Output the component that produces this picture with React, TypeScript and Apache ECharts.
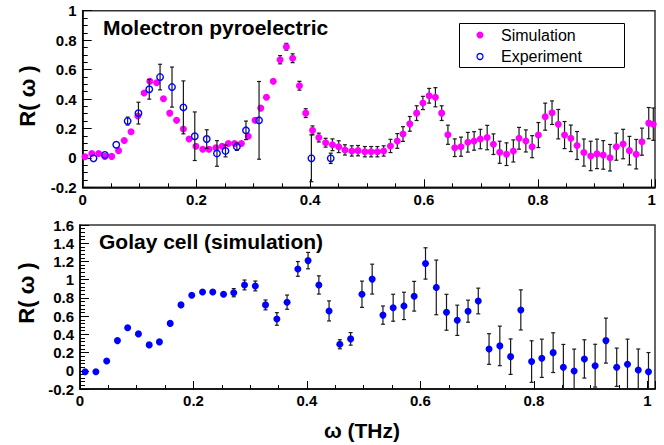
import React, { useEffect, useRef } from "react";
import * as echarts from "echarts";

// ---------- Data ----------
const simX = [
  0.004, 0.016, 0.028, 0.039, 0.051, 0.063, 0.073, 0.085, 0.097, 0.108,
  0.118, 0.130, 0.142, 0.153, 0.165, 0.177, 0.187, 0.199, 0.211, 0.222,
  0.234, 0.245, 0.256, 0.267, 0.279, 0.291, 0.303, 0.313, 0.323, 0.335,
  0.347, 0.358, 0.369, 0.381, 0.392, 0.404, 0.415, 0.427, 0.439, 0.450,
  0.461, 0.473, 0.484, 0.496, 0.507, 0.518, 0.529, 0.541, 0.553, 0.563,
  0.575, 0.587, 0.598, 0.609, 0.620, 0.631, 0.642, 0.654, 0.665, 0.677,
  0.688, 0.699, 0.711, 0.722, 0.733, 0.745, 0.757, 0.767, 0.779, 0.790,
  0.801, 0.813, 0.825, 0.836, 0.847, 0.858, 0.869, 0.881, 0.893, 0.904,
  0.915, 0.927, 0.938, 0.950, 0.961, 0.973, 0.983, 0.995, 1.003,
];
const simY = [
  0.008, 0.030, 0.030, 0.010, 0.010, 0.049, 0.118, 0.177, 0.285, 0.441,
  0.520, 0.510, 0.402, 0.304, 0.255, 0.196, 0.128, 0.079, 0.059, 0.059,
  0.069, 0.079, 0.098, 0.098, 0.098, 0.147, 0.255, 0.338, 0.412, 0.520,
  0.667, 0.755, 0.677, 0.490, 0.304, 0.187, 0.138, 0.103, 0.089, 0.076,
  0.054, 0.047, 0.049, 0.042, 0.042, 0.042, 0.047, 0.081, 0.115, 0.162,
  0.231, 0.304, 0.373, 0.422, 0.412, 0.304, 0.157, 0.069, 0.076, 0.106,
  0.115, 0.128, 0.138, 0.093, 0.038, 0.025, 0.047, 0.133, 0.115, 0.076,
  0.155, 0.280, 0.307, 0.229, 0.155, 0.133, 0.084, 0.036, 0.013, 0.027,
  0.020, 0.001, 0.076, 0.094, 0.049, 0.025, 0.110, 0.236, 0.229,
];
const simErr = [
  0, 0, 0, 0, 0, 0, 0, 0, 0, 0,
  0, 0, 0, 0, 0, 0, 0, 0, 0, 0,
  0, 0, 0, 0, 0, 0, 0, 0, 0, 0,
  0.028, 0.023, 0.03, 0.03, 0.03, 0.03, 0.03, 0.03, 0.04, 0.04,
  0.035, 0.035, 0.035, 0.035, 0.035, 0.035, 0.035, 0.045, 0.05, 0.05,
  0.05, 0.05, 0.045, 0.05, 0.065, 0.05, 0.065, 0.06, 0.065, 0.067,
  0.063, 0.066, 0.083, 0.07, 0.075, 0.077, 0.075, 0.074, 0.075, 0.075,
  0.085, 0.092, 0.08, 0.1, 0.092, 0.09, 0.095, 0.092, 0.1, 0.1,
  0.097, 0.09, 0.092, 0.1, 0.097, 0.1, 0.092, 0.106, 0.11,
];

const expX = [
  0.019, 0.039, 0.059, 0.079, 0.098, 0.117, 0.136, 0.157, 0.177,
  0.197, 0.218, 0.236, 0.251, 0.271, 0.287, 0.310, 0.402, 0.436,
];
const expY = [
  -0.003, 0.020, 0.089, 0.250, 0.304, 0.466, 0.549, 0.481, 0.343,
  0.147, 0.128, 0.030, 0.047, 0.076, 0.187, 0.255, -0.003, -0.003,
];
const expErr = [
  0, 0, 0, 0.027, 0.074, 0.067, 0.087, 0.136, 0.18,
  0.165, 0.063, 0.087, 0.04, 0.025, 0.063, 0.264, 0.159, 0.035,
];

const golayX = [
  0.009, 0.028, 0.047, 0.066, 0.084, 0.103, 0.122, 0.140, 0.159, 0.178,
  0.197, 0.216, 0.234, 0.253, 0.271, 0.290, 0.309, 0.327, 0.347, 0.365,
  0.384, 0.402, 0.421, 0.439, 0.458, 0.477, 0.497, 0.515, 0.534, 0.552,
  0.571, 0.589, 0.609, 0.628, 0.646, 0.665, 0.684, 0.702, 0.721, 0.740,
  0.759, 0.777, 0.796, 0.814, 0.834, 0.852, 0.871, 0.889, 0.908, 0.927,
  0.946, 0.965, 0.984, 1.002,
];
const golayY = [
  -0.010, -0.010, 0.108, 0.331, 0.473, 0.405, 0.284, 0.317, 0.520, 0.723,
  0.829, 0.864, 0.864, 0.840, 0.857, 0.942, 0.931, 0.723, 0.569, 0.753,
  1.118, 1.209, 0.942, 0.657, 0.291, 0.350, 0.840, 1.006, 0.611, 0.692,
  0.712, 0.818, 1.178, 0.915, 0.642, 0.554, 0.654, 0.766, 0.239, 0.273,
  0.155, 0.668, 0.101, 0.137, 0.199, 0.039, -0.002, 0.130, 0.056, 0.331,
  0.039, 0.071, 0.009, -0.010,
];
const golayErr = [
  0, 0, 0, 0, 0, 0, 0, 0, 0, 0,
  0, 0, 0, 0, 0.045, 0.054, 0.054, 0.054, 0.069, 0.078,
  0.081, 0.09, 0.1, 0.11, 0.05, 0.069, 0.144, 0.164, 0.1, 0.148,
  0.15, 0.163, 0.172, 0.3, 0.197, 0.166, 0.121, 0.141, 0.168, 0.217,
  0.195, 0.22, 0.228, 0.21, 0.218, 0.25, 0.24, 0.21, 0.235, 0.247,
  0.21, 0.276, 0.23, 0.21,
];

const xTickStep = 0.2;
const yTickStep = 0.2;
const topYRange = [-0.2, 1.0];
const botYRange = [-0.2, 1.6];
const topXMax = 1.006;
const botXMax = 1.0135;

const FONT = '"Liberation Sans", Arial, Helvetica, sans-serif';

function fmt(v: number): string {
  const r = Math.round(v / xTickStep) * xTickStep;
  if (Math.abs(v - r) > 1e-6) return "";
  const s = Math.round(r * 10) / 10;
  return String(s);
}

function errRender(cap: number) {
  return (params: any, api: any) => {
    const x = api.value(0);
    const y = api.value(1);
    const e = api.value(2);
    if (!e) return { type: "group", children: [] };
    const cs = params.coordSys;
    const top = api.coord([x, y + e]);
    const bot = api.coord([x, y - e]);
    const y0 = cs.y;
    const y1 = cs.y + cs.height;
    const ty = Math.max(top[1], y0);
    const by = Math.min(bot[1], y1);
    const st = { stroke: "#1a1a1a", lineWidth: 1.2 };
    const children: any[] = [
      { type: "line", shape: { x1: top[0], y1: ty, x2: top[0], y2: by }, style: st },
    ];
    if (top[1] >= y0)
      children.push({ type: "line", shape: { x1: top[0] - cap, y1: top[1], x2: top[0] + cap, y2: top[1] }, style: st });
    if (bot[1] <= y1)
      children.push({ type: "line", shape: { x1: bot[0] - cap, y1: bot[1], x2: bot[0] + cap, y2: bot[1] }, style: st });
    return { type: "group", children };
  };
}

function xAxisCfg(gridIndex: number, max: number, margin: number) {
  return {
    type: "value",
    gridIndex,
    min: 0,
    max,
    interval: xTickStep,
    axisLine: { show: true, onZero: false, lineStyle: { color: "#000", width: 1.5 } },
    axisTick: { show: true, inside: true, length: 8, lineStyle: { color: "#000", width: 1 } },
    minorTick: { show: true, splitNumber: 4, length: 4, lineStyle: { color: "#000", width: 1 } },
    splitLine: { show: false },
    axisLabel: {
      show: true,
      margin,
      fontFamily: FONT,
      fontWeight: "bold",
      fontSize: 15,
      color: "#000",
      formatter: (v: number) => fmt(v),
      showMaxLabel: true,
    },
  };
}

function yAxisCfg(gridIndex: number, range: number[], minorSplit: number) {
  return {
    type: "value",
    gridIndex,
    min: range[0],
    max: range[1],
    interval: yTickStep,
    axisLine: { show: true, onZero: false, lineStyle: { color: "#000", width: 1.5 } },
    axisTick: { show: true, inside: true, length: 9, lineStyle: { color: "#000", width: 1 } },
    minorTick: { show: true, splitNumber: minorSplit, length: 5, lineStyle: { color: "#000", width: 1 } },
    splitLine: { show: false },
    axisLabel: {
      show: true,
      margin: 6,
      padding: [5, 0, 0, 0],
      fontFamily: FONT,
      fontWeight: "bold",
      fontSize: 15,
      color: "#000",
      formatter: (v: number) => {
        const r = Math.round(v / yTickStep) * yTickStep;
        if (Math.abs(v - r) > 1e-6) return "";
        return String(Math.round(r * 10) / 10);
      },
    },
  };
}

export default function App() {
  const ref = useRef<HTMLDivElement>(null);

  useEffect(() => {
    if (!ref.current) return;
    const chart = echarts.init(ref.current, undefined, { renderer: "svg" });

    const simPts = simX.map((x, i) => [x, simY[i], simErr[i]]);
    const expPts = expX.map((x, i) => [x, expY[i], expErr[i]]);
    const golPts = golayX.map((x, i) => [x, golayY[i], golayErr[i]]);

    chart.setOption({
      animation: false,
      backgroundColor: "#fff",
      grid: [
        { left: 82.7, top: 10.7, right: 9, bottom: 257.7, show: true, borderColor: "#333", borderWidth: 1.5, backgroundColor: "transparent" },
        { left: 80, top: 225, right: 9, bottom: 56, show: true, borderColor: "#333", borderWidth: 1.5, backgroundColor: "transparent" },
      ],
      xAxis: [xAxisCfg(0, topXMax, 5), xAxisCfg(1, botXMax, 4)],
      yAxis: [yAxisCfg(0, topYRange, 4), yAxisCfg(1, botYRange, 5)],
      series: [
        {
          type: "custom",
          xAxisIndex: 0,
          yAxisIndex: 0,
          renderItem: errRender(2),
          data: simPts,
          encode: { x: 0, y: 1 },
          clip: false,
          z: 1,
        },
        {
          type: "scatter",
          name: "Simulation",
          xAxisIndex: 0,
          yAxisIndex: 0,
          data: simPts.map((p) => [p[0], p[1]]),
          symbol: "circle",
          symbolSize: 7,
          itemStyle: { color: "#ff00ff", opacity: 1 },
          z: 2,
        },
        {
          type: "custom",
          xAxisIndex: 0,
          yAxisIndex: 0,
          renderItem: errRender(2),
          data: expPts,
          encode: { x: 0, y: 1 },
          clip: false,
          z: 3,
        },
        {
          type: "scatter",
          name: "Experiment",
          xAxisIndex: 0,
          yAxisIndex: 0,
          data: expPts.map((p) => [p[0], p[1]]),
          symbol: "circle",
          symbolSize: 6.5,
          itemStyle: { color: "rgba(255,255,255,0)", borderColor: "#0000ff", borderWidth: 1.4, opacity: 1 },
          z: 4,
        },
        {
          type: "custom",
          xAxisIndex: 1,
          yAxisIndex: 1,
          renderItem: errRender(2),
          data: golPts,
          encode: { x: 0, y: 1 },
          clip: false,
          z: 1,
        },
        {
          type: "scatter",
          name: "Golay",
          xAxisIndex: 1,
          yAxisIndex: 1,
          data: golPts.map((p) => [p[0], p[1]]),
          symbol: "circle",
          symbolSize: 7,
          itemStyle: { color: "#0000ff", opacity: 1 },
          z: 2,
        },
      ],
      graphic: [
        {
          type: "text",
          left: 103,
          top: 17,
          style: { text: "Molectron pyroelectric", font: `bold 21px ${FONT}`, fill: "#000" },
        },
        {
          type: "text",
          left: 99,
          top: 231,
          style: { text: "Golay cell (simulation)", font: `bold 21px ${FONT}`, fill: "#000" },
        },
        {
          type: "text",
          x: 27,
          y: 96,
          rotation: Math.PI / 2,
          style: { text: "R( ω )", font: `bold 22px ${FONT}`, fill: "#000", align: "center", verticalAlign: "middle" },
        },
        {
          type: "text",
          x: 26,
          y: 293,
          rotation: Math.PI / 2,
          style: { text: "R( ω )", font: `bold 22px ${FONT}`, fill: "#000", align: "center", verticalAlign: "middle" },
        },
        {
          type: "text",
          x: 362,
          y: 430,
          style: { text: "ω (THz)", font: `bold 21px ${FONT}`, fill: "#000", align: "center", verticalAlign: "middle" },
        },
        {
          type: "rect",
          shape: { x: 459.5, y: 23.5, width: 165, height: 44 },
          style: { fill: "#fff", stroke: "#000", lineWidth: 1 },
          z: 10,
        },
        {
          type: "circle",
          shape: { cx: 480, cy: 35, r: 3.5 },
          style: { fill: "#ff00ff" },
          z: 11,
        },
        {
          type: "text",
          x: 501,
          y: 35,
          style: { text: "Simulation", font: `16px ${FONT}`, fill: "#000", verticalAlign: "middle" },
          z: 11,
        },
        {
          type: "circle",
          shape: { cx: 480, cy: 56.5, r: 3 },
          style: { fill: "none", stroke: "#0000ff", lineWidth: 1.3 },
          z: 11,
        },
        {
          type: "text",
          x: 501,
          y: 56.5,
          style: { text: "Experiment", font: `16px ${FONT}`, fill: "#000", verticalAlign: "middle" },
          z: 11,
        },
      ],
    });

    return () => chart.dispose();
  }, []);

  return (
    <div
      ref={ref}
      style={{ position: "absolute", left: 0, top: 0, width: 664, height: 445, background: "#fff" }}
    />
  );
}
